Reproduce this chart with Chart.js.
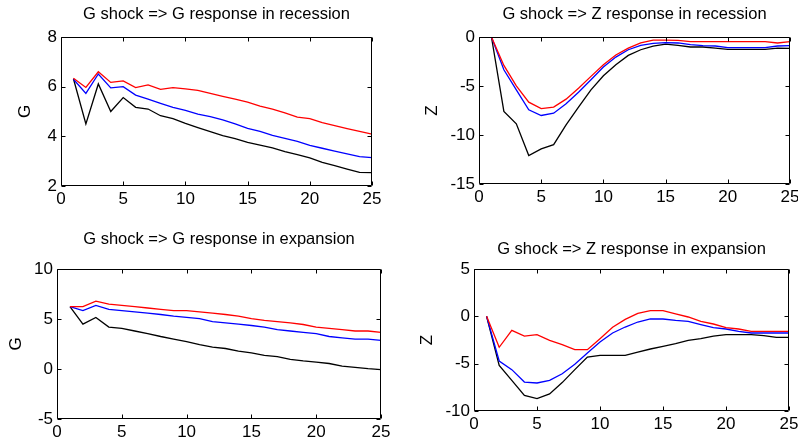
<!DOCTYPE html>
<html>
<head>
<meta charset="utf-8">
<script src="https://cdn.jsdelivr.net/npm/chart.js@4"></script>
<style>
  html, body { margin: 0; padding: 0; background: #fff; }
  #wrap { position: relative; width: 798px; height: 446px; overflow: hidden; background: #fff; }
  #wrap canvas { position: absolute; left: 0; top: 0; }
</style>
</head>
<body>
<div id="wrap">
  <canvas id="c1" width="798" height="446"></canvas>
  <canvas id="c2" width="798" height="446"></canvas>
  <canvas id="c3" width="798" height="446"></canvas>
  <canvas id="c4" width="798" height="446"></canvas>
</div>
<script>
// Impulse-response horizons
const steps = [1, 2, 3, 4, 5, 6, 7, 8, 9, 10, 11, 12, 13, 14, 15, 16, 17, 18, 19, 20, 21, 22, 23, 24, 25];
const xTicks = [0, 5, 10, 15, 20, 25];

// G shock => G response in recession
const gRecRed   = [6.34, 5.97, 6.60, 6.17, 6.23, 5.96, 6.07, 5.89, 5.96, 5.91, 5.85, 5.73, 5.61, 5.50, 5.38, 5.22, 5.10, 4.94, 4.77, 4.71, 4.55, 4.43, 4.31, 4.20, 4.09];
const gRecBlue  = [6.30, 5.73, 6.51, 5.95, 6.00, 5.66, 5.50, 5.33, 5.17, 5.05, 4.89, 4.79, 4.66, 4.50, 4.32, 4.20, 4.04, 3.92, 3.80, 3.64, 3.52, 3.40, 3.29, 3.18, 3.14];
const gRecBlack = [6.32, 4.50, 6.11, 5.00, 5.56, 5.17, 5.10, 4.83, 4.71, 4.52, 4.35, 4.19, 4.03, 3.91, 3.76, 3.65, 3.54, 3.38, 3.26, 3.13, 2.95, 2.82, 2.68, 2.55, 2.54];
const gRecTicks = [2, 4, 6, 8];

// G shock => Z response in recession
const zRecRed   = [0, -2.90, -4.98, -6.65, -7.30, -7.16, -6.34, -5.22, -4.02, -2.83, -1.84, -1.13, -0.61, -0.31, -0.31, -0.34, -0.48, -0.48, -0.48, -0.48, -0.48, -0.48, -0.48, -0.61, -0.48];
const zRecBlue  = [0, -3.34, -5.39, -7.43, -8.01, -7.77, -6.82, -5.63, -4.36, -3.07, -2.05, -1.30, -0.85, -0.65, -0.58, -0.61, -0.78, -0.89, -0.92, -1.09, -1.09, -1.09, -1.09, -0.92, -0.89];
const zRecBlack = [0, -7.60, -8.86, -12.10, -11.42, -10.98, -8.97, -7.16, -5.39, -3.96, -2.83, -1.88, -1.30, -0.92, -0.72, -0.85, -1.02, -1.02, -1.13, -1.26, -1.26, -1.26, -1.26, -1.13, -1.16];
const zRecTicks = [-15, -10, -5, 0];

// G shock => G response in expansion
const gExpRed   = [6.23, 6.23, 6.79, 6.49, 6.36, 6.23, 6.10, 5.97, 5.84, 5.84, 5.71, 5.58, 5.45, 5.29, 5.03, 4.87, 4.74, 4.61, 4.45, 4.19, 4.06, 3.93, 3.80, 3.80, 3.67];
const gExpBlue  = [6.23, 5.84, 6.36, 5.97, 5.84, 5.71, 5.58, 5.45, 5.29, 5.16, 5.03, 4.74, 4.61, 4.48, 4.35, 4.19, 3.93, 3.80, 3.67, 3.54, 3.25, 3.12, 2.99, 2.99, 2.86];
const gExpBlack = [6.23, 4.48, 5.16, 4.19, 4.06, 3.80, 3.54, 3.25, 2.99, 2.73, 2.44, 2.18, 2.05, 1.79, 1.62, 1.36, 1.23, 0.97, 0.81, 0.68, 0.55, 0.29, 0.16, 0.03, -0.06];
const gExpTicks = [-5, 0, 5, 10];

// G shock => Z response in expansion
const zExpRed   = [0, -3.27, -1.48, -2.08, -1.94, -2.54, -2.99, -3.52, -3.52, -2.36, -1.16, -0.32, 0.32, 0.60, 0.60, 0.25, -0.07, -0.53, -0.81, -1.20, -1.34, -1.58, -1.58, -1.58, -1.58];
const zExpBlue  = [0, -4.72, -5.63, -6.94, -7.04, -6.76, -6.06, -5.07, -3.87, -2.71, -1.76, -1.13, -0.60, -0.28, -0.28, -0.42, -0.53, -0.88, -1.20, -1.34, -1.58, -1.76, -1.76, -1.76, -1.76];
const zExpBlack = [0, -5.18, -6.76, -8.35, -8.70, -8.20, -7.00, -5.63, -4.30, -4.12, -4.12, -4.12, -3.77, -3.45, -3.17, -2.89, -2.54, -2.36, -2.08, -1.94, -1.94, -1.94, -2.04, -2.22, -2.22];
const zExpTicks = [-10, -5, 0, 5];

const FONT = 'Liberation Sans, Arial, Helvetica, sans-serif';
const TICK_SIZE = 17;
const TITLE_SIZE = 16.5;
const LABEL_SIZE = 17;
const LH = 1.2;
const PAGE_W = 798, PAGE_H = 446;
const X_AXIS_H = 20;

// Axes box with short inward tick marks on all four sides
const boxTicks = {
  id: 'boxTicks',
  afterDatasetsDraw(chart) {
    const { ctx, chartArea: a, scales: { x, y } } = chart;
    const L = Math.round(a.left) + 0.5, R = Math.round(a.right) - 0.5;
    const T = Math.round(a.top) + 0.5, B = Math.round(a.bottom) - 0.5;
    const len = 4;
    ctx.save();
    ctx.strokeStyle = '#000';
    ctx.lineWidth = 1;
    ctx.beginPath();
    ctx.rect(L, T, R - L, B - T);
    x.ticks.forEach(t => {
      const px = Math.round(x.getPixelForValue(t.value)) + 0.5;
      ctx.moveTo(px, B); ctx.lineTo(px, B - len);
      ctx.moveTo(px, T); ctx.lineTo(px, T + len);
    });
    y.ticks.forEach(t => {
      const py = Math.round(y.getPixelForValue(t.value)) + 0.5;
      ctx.moveTo(L, py); ctx.lineTo(L + len, py);
      ctx.moveTo(R, py); ctx.lineTo(R - len, py);
    });
    ctx.stroke();
    ctx.restore();
  }
};

function series(values, color) {
  return {
    data: steps.map((s, i) => ({ x: s, y: values[i] })),
    borderColor: color,
    backgroundColor: color,
    borderWidth: 1.3,
    pointRadius: 0,
    tension: 0,
    fill: false
  };
}

// rect: plot box edges; yLabelX: centre of the rotated axis label; titleY: centre of the title
function panel(id, spec) {
  const r = spec.rect;
  const lhY = LABEL_SIZE * LH, lhT = TITLE_SIZE * LH;
  const padLeft = Math.round(spec.yLabelX - lhY / 2);
  const padTop = Math.round(spec.titleY - lhT / 2);
  const yWidth = r.l - padLeft;
  const titleBottom = r.t - padTop - lhT;
  new Chart(document.getElementById(id), {
    type: 'line',
    data: {
      datasets: [
        series(spec.red, '#ff0000'),
        series(spec.blue, '#0000ff'),
        series(spec.black, '#000000')
      ]
    },
    options: {
      responsive: false,
      animation: false,
      events: [],
      layout: {
        padding: { left: padLeft, top: padTop, right: PAGE_W - r.r, bottom: PAGE_H - r.b - X_AXIS_H }
      },
      plugins: {
        legend: { display: false },
        tooltip: { enabled: false },
        title: {
          display: true,
          text: spec.title,
          fullSize: false,
          color: '#000',
          font: { family: FONT, size: TITLE_SIZE, weight: 'normal', lineHeight: LH },
          padding: { top: 0, bottom: titleBottom }
        }
      },
      scales: {
        x: {
          type: 'linear',
          min: 0,
          max: 25,
          grid: { display: false, drawTicks: false },
          border: { display: false },
          afterBuildTicks: s => { s.ticks = xTicks.map(v => ({ value: v })); },
          afterFit: s => { s.height = X_AXIS_H; s.paddingLeft = 0; s.paddingRight = 0; },
          ticks: {
            color: '#000',
            padding: 3,
            maxRotation: 0,
            autoSkip: false,
            font: { family: FONT, size: TICK_SIZE, lineHeight: LH },
            callback: v => String(v)
          }
        },
        y: {
          type: 'linear',
          min: spec.yTicks[0],
          max: spec.yTicks[spec.yTicks.length - 1],
          grid: { display: false, drawTicks: false },
          border: { display: false },
          afterBuildTicks: s => { s.ticks = spec.yTicks.map(v => ({ value: v })); },
          afterFit: s => { s.width = yWidth; s.paddingTop = 0; s.paddingBottom = 0; },
          title: {
            display: true,
            text: spec.yLabel,
            color: '#000',
            padding: 0,
            font: { family: FONT, size: LABEL_SIZE, lineHeight: LH }
          },
          ticks: {
            color: '#000',
            padding: 4,
            autoSkip: false,
            font: { family: FONT, size: TICK_SIZE, lineHeight: LH },
            callback: v => String(v)
          }
        }
      }
    },
    plugins: [boxTicks]
  });
}

panel('c1', {
  title: 'G shock => G response in recession', yLabel: 'G',
  rect: { l: 61, t: 37, r: 372, b: 186 }, yLabelX: 25, titleY: 15,
  yTicks: gRecTicks, red: gRecRed, blue: gRecBlue, black: gRecBlack
});
panel('c2', {
  title: 'G shock => Z response in recession', yLabel: 'Z',
  rect: { l: 479, t: 37, r: 790, b: 184 }, yLabelX: 432, titleY: 15,
  yTicks: zRecTicks, red: zRecRed, blue: zRecBlue, black: zRecBlack
});
panel('c3', {
  title: 'G shock => G response in expansion', yLabel: 'G',
  rect: { l: 57, t: 269, r: 381, b: 419 }, yLabelX: 16, titleY: 240,
  yTicks: gExpTicks, red: gExpRed, blue: gExpBlue, black: gExpBlack
});
panel('c4', {
  title: 'G shock => Z response in expansion', yLabel: 'Z',
  rect: { l: 474, t: 269, r: 789, b: 411 }, yLabelX: 427, titleY: 250,
  yTicks: zExpTicks, red: zExpRed, blue: zExpBlue, black: zExpBlack
});
</script>
</body>
</html>
